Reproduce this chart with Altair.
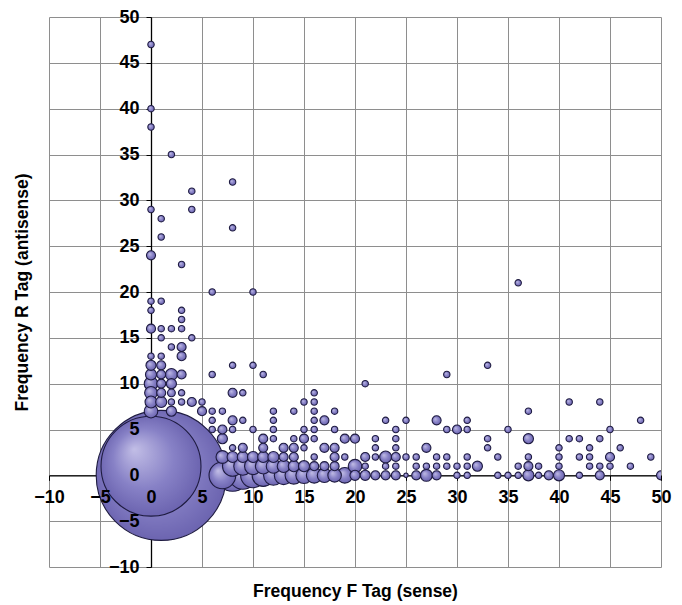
import altair as alt
import pandas as pd

# (x = F tag frequency, y = R tag frequency, count = bubble size)
xs = [0,0,0,0,0,0,0,0,0,0,0,0,0,0,0,0,
      1,1,1,1,1,1,1,1,1,1,1,1,
      2,2,2,2,2,2,2,2,
      3,3,3,3,3,3,3,3,3,
      4,4,4,4,
      5,5,
      6,6,6,6,6,
      7,7,7,7,7,
      8,8,8,8,8,8,8,8,8,8,
      9,9,9,9,9,9,
      10,10,10,10,10,10,
      11,11,11,11,11,11,
      12,12,12,12,12,12,12,
      13,13,13,13,
      14,14,14,14,14,14,
      15,15,15,15,15,15,
      16,16,16,16,16,16,16,16,16,
      17,17,17,17,
      18,18,18,18,18,18,
      19,19,19,
      20,20,20,
      21,21,21,21,
      22,22,22,22,
      23,23,23,23,
      24,24,24,24,24,24,
      25,25,25,
      26,26,26,
      27,27,27,
      28,28,28,28,
      29,29,29,29,
      30,30,30,
      31,31,31,31,31,
      32,
      33,33,33,
      34,34,
      35,35,
      36,36,36,
      37,37,37,37,37,
      38,38,
      39,
      40,40,40,40,
      41,41,
      42,42,42,
      43,43,43,
      44,44,44,44,
      45,45,45,
      46,47,48,49,50]
ys = [47,40,38,29,24,19,18,16,13,12,11,10,9,8,7,1,
      28,26,19,16,15,13,12,11,10,9,8,0,
      35,16,14,11,10,9,8,7,
      23,18,17,16,14,13,11,9,8,
      31,29,15,8,
      8,7,
      20,11,7,6,5,
      7,5,4,2,0,
      32,27,12,9,6,5,3,2,1,0,
      9,6,3,2,1,0,
      20,12,5,2,1,0,
      11,4,3,2,1,0,
      7,6,5,4,2,1,0,
      3,2,1,0,
      7,4,3,2,1,0,
      8,5,4,3,1,0,
      9,8,7,6,5,4,2,1,0,
      6,3,1,0,
      7,5,3,2,1,0,
      4,2,0,
      4,1,0,
      10,2,1,0,
      4,3,2,0,
      6,2,1,0,
      5,4,3,2,1,0,
      6,2,0,
      2,1,0,
      3,1,0,
      6,2,1,0,
      11,5,2,1,
      5,1,0,
      6,5,2,1,0,
      1,
      12,4,3,
      2,0,
      5,0,
      21,1,0,
      7,4,2,1,0,
      1,0,
      0,
      3,2,1,0,
      8,4,
      4,2,0,
      3,2,1,
      8,4,1,0,
      5,2,1,
      3,1,6,2,0]
counts = [2,2,2,2,4,2,2,4,2,5,6,9,8,7,9,489,
          2,2,2,2,2,2,4,4,4,4,6,827,
          2,2,2,7,5,3,2,5,
          2,2,2,2,4,4,4,2,2,
          2,2,2,4,
          2,4,
          2,2,2,2,2,
          2,4,5,8,35,
          2,2,2,4,4,2,2,6,20,50,
          2,2,4,6,16,38,
          2,2,2,6,14,30,
          2,4,4,6,12,24,
          2,2,2,2,6,10,19,
          4,4,8,17,
          2,2,4,4,6,15,
          2,2,4,2,6,13,
          2,2,2,2,2,2,2,4,12,
          4,4,4,10,
          2,2,4,4,4,9,
          4,2,12,
          4,9,5,
          2,4,2,5,
          2,2,2,4,
          2,7,2,4,
          2,2,2,4,2,4,
          2,2,1,
          2,2,4,
          4,2,7,
          4,2,2,4,
          2,2,2,2,
          4,2,2,
          2,2,2,2,2,
          5,
          2,2,2,
          2,2,
          2,2,
          2,2,2,
          2,5,2,4,6,
          2,2,
          4,
          2,2,2,6,
          2,2,
          2,2,2,
          2,2,2,
          2,2,2,4,
          2,4,2,
          2,2,2,2,4]

ticks = list(range(-10, 51, 5))

df = pd.DataFrame({"F": xs, "R": ys, "count": counts})

W, H = 612, 550
X_OFF = -W / 6.0   # puts the y axis at F = 0
Y_OFF = -H / 6.0   # puts the x axis at R = 0

xscale = alt.Scale(domain=[-10, 50], nice=False, zero=False)
yscale = alt.Scale(domain=[-10, 50], nice=False, zero=False)
sscale = alt.Scale(type="linear", domain=[0, 1000], range=[0, 20440], zero=True)

FONT = "Liberation Sans"
GRID = "#8e8e8e"

line_axis_x = alt.Axis(orient="bottom", values=ticks, grid=True, gridColor=GRID, gridWidth=1,
                       domain=True, domainColor="#000000", domainWidth=1.3,
                       ticks=True, tickColor="#000000", tickSize=5, tickWidth=1,
                       labels=False, title=None, offset=Y_OFF, zindex=0)
line_axis_y = alt.Axis(orient="left", values=ticks, grid=True, gridColor=GRID, gridWidth=1,
                       domain=True, domainColor="#000000", domainWidth=1.3,
                       ticks=True, tickColor="#000000", tickSize=5, tickWidth=1,
                       labels=False, title=None, offset=X_OFF, zindex=0)

label_axis_x = alt.Axis(orient="bottom", values=ticks, grid=False, domain=False, ticks=False, tickSize=0,
                        labels=True, labelFont=FONT, labelFontWeight="bold", labelFontSize=18,
                        labelColor="#000000", labelPadding=13, labelFlush=False,
                        labelOverlap=False, labelBound=False, offset=Y_OFF, zindex=1,
                        title="Frequency F Tag (sense)", titleFont=FONT, titleFontWeight="bold",
                        titleFontSize=17.5, titleColor="#000000", titleY=116,
                        titleBaseline="middle")
label_axis_y = alt.Axis(orient="left", values=ticks, grid=False, domain=False, ticks=False, tickSize=0,
                        labels=True, labelFont=FONT, labelFontWeight="bold", labelFontSize=18,
                        labelColor="#000000", labelPadding=12, labelFlush=False,
                        labelOverlap=False, labelBound=False, offset=X_OFF, zindex=1,
                        title="Frequency R Tag (antisense)", titleFont=FONT, titleFontWeight="bold",
                        titleFontSize=17.5, titleColor="#000000", titleX=-129, titleY=H / 2,
                        titleAngle=270, titleBaseline="middle", titleAlign="center")

grad = {"gradient": "radial", "x1": 0.33, "y1": 0.33, "r1": 0.0,
        "x2": 0.5, "y2": 0.5, "r2": 0.55,
        "stops": [{"offset": 0, "color": "#c2bee6"},
                  {"offset": 0.55, "color": "#8781c6"},
                  {"offset": 1, "color": "#675fac"}]}

bubbles = alt.Chart(df).mark_point(
    shape="circle", filled=True, fill=grad, stroke="#1e1b40", strokeWidth=1.1,
    opacity=1, fillOpacity=1, strokeOpacity=1, clip=True
).encode(
    x=alt.X("F:Q", scale=xscale, axis=line_axis_x),
    y=alt.Y("R:Q", scale=yscale, axis=line_axis_y),
    size=alt.Size("count:Q", scale=sscale, legend=None),
    order=alt.Order("count:Q", sort="descending"),
)

labels_layer = alt.Chart(df).mark_point(opacity=0, size=1).encode(
    x=alt.X("F:Q", scale=xscale, axis=label_axis_x),
    y=alt.Y("R:Q", scale=yscale, axis=label_axis_y),
)

chart = alt.layer(bubbles, labels_layer).resolve_axis(
    x="independent", y="independent"
).properties(
    width=W, height=H,
    autosize=alt.AutoSizeParams(type="none"),
    padding={"left": 41, "top": 9, "right": 13, "bottom": 36},
    background="#ffffff",
).configure_view(stroke=None)

chart.save("out.html", embed_options={"renderer": "svg", "actions": False})
